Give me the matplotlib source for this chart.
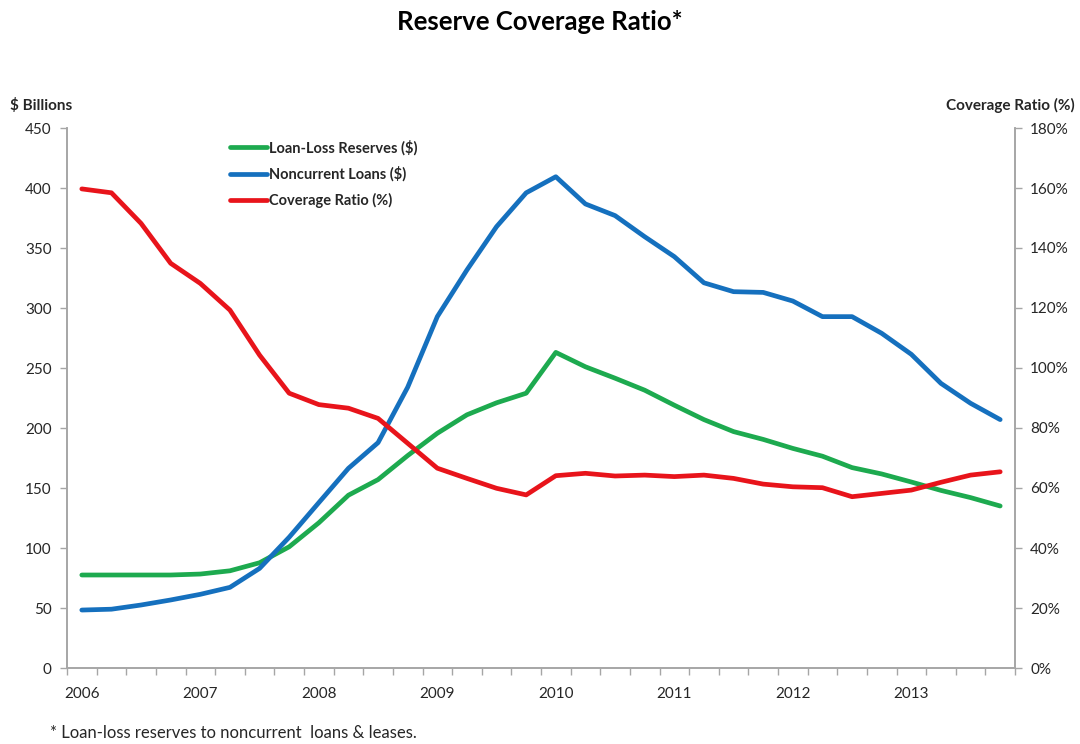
import matplotlib
matplotlib.use("Agg")
import matplotlib.pyplot as plt
import numpy as np
from matplotlib.ticker import FixedLocator, FuncFormatter

plt.rcParams['font.family'] = ['Lato', 'DejaVu Sans']

year_labels = ['2006', '2007', '2008', '2009', '2010', '2011', '2012', '2013']

loan_loss_reserves = [77.5, 77.5, 77.5, 77.5, 78.3, 81, 87.7, 101, 121, 144, 157, 177,
                      195.6, 211, 221, 229, 263, 251, 241.5, 231.5, 219, 207, 197, 190.5,
                      183, 176.5, 167, 161.7, 155, 148, 142, 135]
noncurrent_loans = [48.3, 49, 52.5, 56.7, 61.4, 67.2, 83, 109, 137.8, 166.4, 187.8, 234,
                    292.8, 331.7, 367.8, 396, 409.4, 386.7, 377, 359.4, 342.8, 321, 313.6, 313,
                    305.8, 292.8, 292.8, 278.9, 261.4, 237.2, 220.6, 207]
coverage_ratio = [159.7, 158.4, 148.2, 134.9, 128.2, 119.3, 104.3, 91.6, 87.8, 86.6, 83.2, 74.9,
                  66.6, 63.2, 59.9, 57.7, 64.1, 64.9, 64.0, 64.3, 63.8, 64.3, 63.2, 61.3,
                  60.4, 60.1, 57.1, 58.2, 59.3, 61.9, 64.3, 65.4]

green = '#1DAA4F'
blue = '#1570BE'
red = '#E8141B'
spine_c = '#A6A6A6'
text_c = '#262626'

fig = plt.figure(figsize=(10.8, 7.44), dpi=100)
ax = fig.add_axes([67/1080, 1-668/744, (1015-67)/1080, 540/744])
ax2 = ax.twinx()

x = np.arange(len(loan_loss_reserves))
l1, = ax.plot(x, loan_loss_reserves, color=green, lw=3.4, solid_capstyle='round', solid_joinstyle='round', label='Loan-Loss Reserves ($)')
l2, = ax.plot(x, noncurrent_loans, color=blue, lw=3.4, solid_capstyle='round', solid_joinstyle='round', label='Noncurrent Loans ($)')
l3, = ax2.plot(x, coverage_ratio, color=red, lw=3.4, solid_capstyle='round', solid_joinstyle='round', label='Coverage Ratio (%)')

ax.set_xlim(-0.5, len(x) - 0.5)
ax.set_ylim(0, 450)
ax2.set_ylim(0, 180)
ax.set_yticks(np.arange(0, 451, 50))
ax2.set_yticks(np.arange(0, 181, 20))
ax2.yaxis.set_major_formatter(FuncFormatter(lambda v, p: f'{int(v)}%'))

ax.set_xticks(np.arange(0, len(x), 4))
ax.set_xticklabels(year_labels)
ax.xaxis.set_minor_locator(FixedLocator(np.arange(-0.5, len(x), 1.0)))
ax.tick_params(axis='x', which='major', length=0, pad=14, labelsize=11, labelcolor=text_c)
ax.tick_params(axis='x', which='minor', length=5, width=1, color=spine_c, direction='out')
ax.tick_params(axis='y', length=5, width=1, color=spine_c, labelsize=11, labelcolor=text_c, pad=6)
ax2.tick_params(axis='y', length=5, width=1, color=spine_c, labelsize=11, labelcolor=text_c, pad=6)

for a in (ax, ax2):
    a.spines['top'].set_visible(False)
    for s in ('left', 'right', 'bottom'):
        a.spines[s].set_color(spine_c)
        a.spines[s].set_linewidth(1.2)

leg = ax2.legend(handles=[l1, l2, l3], loc='upper left', bbox_to_anchor=(0.172, 0.978),
                 frameon=False, handlelength=2.5, handletextpad=0.15, labelspacing=0.75,
                 borderaxespad=0, borderpad=0, prop={'weight': 'bold', 'size': 10.5})
for t in leg.get_texts():
    t.set_color(text_c)

fig.text(0.5, 1-22/744, 'Reserve Coverage Ratio*', ha='center', va='center', fontsize=18.5, fontweight='bold', color='black')
fig.text(10/1080, 1-105/744, '$ Billions', ha='left', va='center', fontsize=11, fontweight='bold', color=text_c)
fig.text(1075/1080, 1-105/744, 'Coverage Ratio (%)', ha='right', va='center', fontsize=11, fontweight='bold', color=text_c)
fig.text(50/1080, 1-733/744, '* Loan-loss reserves to noncurrent  loans & leases.', ha='left', va='center', fontsize=12, color=text_c)

fig.savefig('out.png', dpi=100)
